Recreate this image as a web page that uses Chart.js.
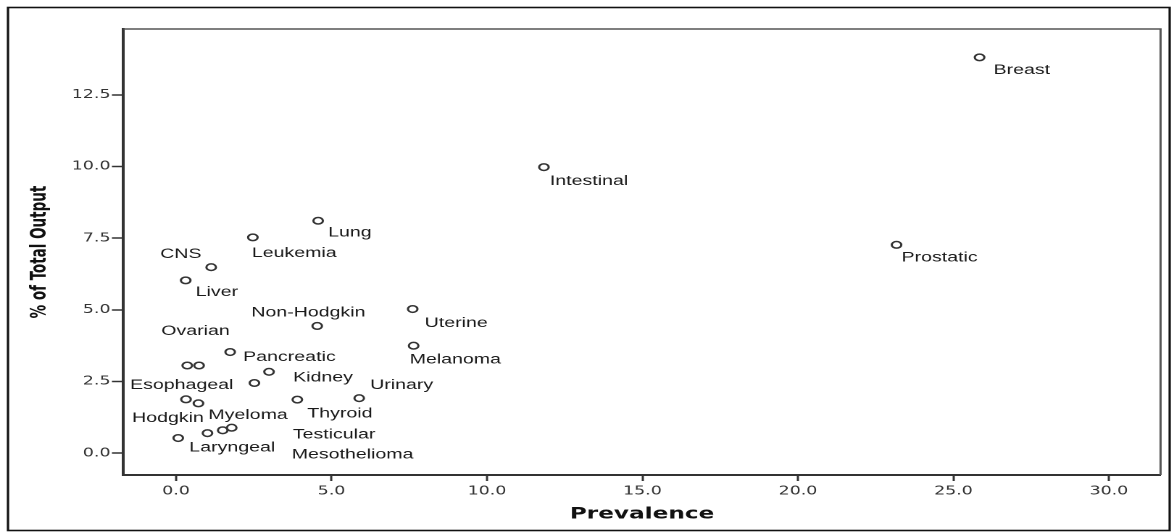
<!DOCTYPE html>
<html>
<head>
<meta charset="utf-8">
<script src="https://cdn.jsdelivr.net/npm/chart.js@4"></script>
<style>
  html, body { margin: 0; padding: 0; background: #fff; overflow: hidden; }
  #wrap { position: absolute; left: 0; top: 0; width: 810px; height: 532px;
          transform: scaleX(1.4494); transform-origin: 0 0; }
</style>
</head>
<body>
<div id="wrap"><canvas id="c"></canvas></div>
<script>
// ---- data ----
const cancers = ["Breast","Intestinal","Prostatic","Lung","Leukemia","CNS","Liver","Non-Hodgkin",
  "Uterine","Melanoma","Pancreatic","Ovarian","Esophageal","Kidney","","Hodgkin","Myeloma",
  "Thyroid","Urinary","Laryngeal","","Mesothelioma","Testicular"];
const prevalence = [25.84, 11.83, 23.17, 4.57, 2.47, 1.13, 0.31, 4.54,
  7.61, 7.64, 1.74, 0.36, 0.74, 2.99, 2.52, 0.32, 0.72,
  3.90, 5.89, 0.07, 1.01, 1.50, 1.79];
const totalOutput = [13.81, 9.98, 7.27, 8.11, 7.53, 6.49, 6.03, 4.44,
  5.03, 3.75, 3.53, 3.06, 3.06, 2.84, 2.45, 1.88, 1.74,
  1.87, 1.92, 0.53, 0.70, 0.80, 0.89];
const xTicks = [0, 5, 10, 15, 20, 25, 30];
const yTicks = [0, 2.5, 5, 7.5, 10, 12.5];

// label placement relative to each point (style, in px)
const labelOffsets = [[9.7,13],[4.1,14],[3.4,13],[6.9,12],[-0.7,16],[-35.2,-13],[6.9,12],[-45.5,-13],
  [8.3,14],[-2.8,14],[9,5],[-17.9,-34],[-47.6,20],[16.6,6],[0,0],[-37.2,19],[6.9,12],
  [6.9,14],[7.6,-13],[7.6,10],[0,0],[47.6,24.7],[42.1,7.3]];

const points = prevalence.map((x, i) => ({ x: x, y: totalOutput[i] }));

const decor = {
  id: 'decor',
  afterDatasetsDraw(chart) {
    const ctx = chart.ctx, a = chart.chartArea;
    ctx.save();
    // plot frame top/right
    ctx.strokeStyle = '#555';
    ctx.lineWidth = 1.5;
    ctx.beginPath();
    ctx.moveTo(a.left, a.top); ctx.lineTo(a.right, a.top); ctx.lineTo(a.right, a.bottom);
    ctx.stroke();
    // outer frame
    ctx.strokeStyle = '#111';
    ctx.lineWidth = 1.6;
    ctx.strokeRect(5.5, 7.5, 801.5, 523);
    // point labels
    const meta = chart.getDatasetMeta(0);
    ctx.fillStyle = '#1a1a1a';
    ctx.font = '13.5px "Liberation Sans", Arial, sans-serif';
    ctx.textAlign = 'left';
    ctx.textBaseline = 'middle';
    meta.data.forEach((el, i) => {
      const t = cancers[i];
      if (!t) return;
      const o = labelOffsets[i];
      ctx.fillText(t, el.x + o[0], el.y + o[1]);
    });
    ctx.restore();
  }
};

new Chart(document.getElementById('c'), {
  type: 'scatter',
  data: {
    datasets: [{
      data: points,
      pointStyle: 'circle',
      pointRadius: 3.3,
      pointBorderWidth: 1.5,
      pointBorderColor: '#333',
      pointBackgroundColor: 'rgba(255,255,255,0)'
    }]
  },
  options: {
    responsive: true,
    maintainAspectRatio: false,
    animation: false,
    devicePixelRatio: 2,
    events: [],
    layout: { padding: { left: 0, right: 9.3, top: 29, bottom: 0 } },
    plugins: { legend: { display: false }, tooltip: { enabled: false } },
    scales: {
      x: {
        type: 'linear',
        min: -1.69, max: 31.66,
        afterFit(s) { s.height = 57; },
        afterBuildTicks(s) { s.ticks = xTicks.map(v => ({ value: v })); },
        border: { display: true, color: '#333', width: 2 },
        grid: { drawOnChartArea: false, drawTicks: true, tickLength: 6, tickColor: '#333', tickWidth: 1.5 },
        ticks: {
          padding: 3, color: '#333',
          font: { family: '"DejaVu Sans", sans-serif', size: 12 },
          maxRotation: 0, autoSkip: false,
          callback: v => Number(v).toFixed(1)
        },
        title: {
          display: true, text: 'Prevalence', color: '#111',
          font: { family: '"DejaVu Sans", sans-serif', size: 16, weight: 'bold' },
          padding: { top: 0, bottom: 8 }
        }
      },
      y: {
        type: 'linear',
        min: -0.76, max: 14.8,
        afterFit(s) { s.width = 85.2; },
        afterBuildTicks(s) { s.ticks = yTicks.map(v => ({ value: v })); },
        border: { display: true, color: '#333', width: 2 },
        grid: { drawOnChartArea: false, drawTicks: true, tickLength: 8, tickColor: '#333', tickWidth: 1.5 },
        ticks: {
          padding: 1, color: '#333',
          font: { family: '"DejaVu Sans", sans-serif', size: 12 },
          autoSkip: false,
          callback: v => Number(v).toFixed(1)
        },
        title: {
          display: true, text: '% of Total Output', color: '#111',
          font: { family: '"Liberation Sans Narrow", "DejaVu Sans Condensed", sans-serif', size: 15, weight: 'bold' },
          padding: { top: 18.6, bottom: 0 }
        }
      }
    }
  },
  plugins: [decor]
});
</script>
</body>
</html>
